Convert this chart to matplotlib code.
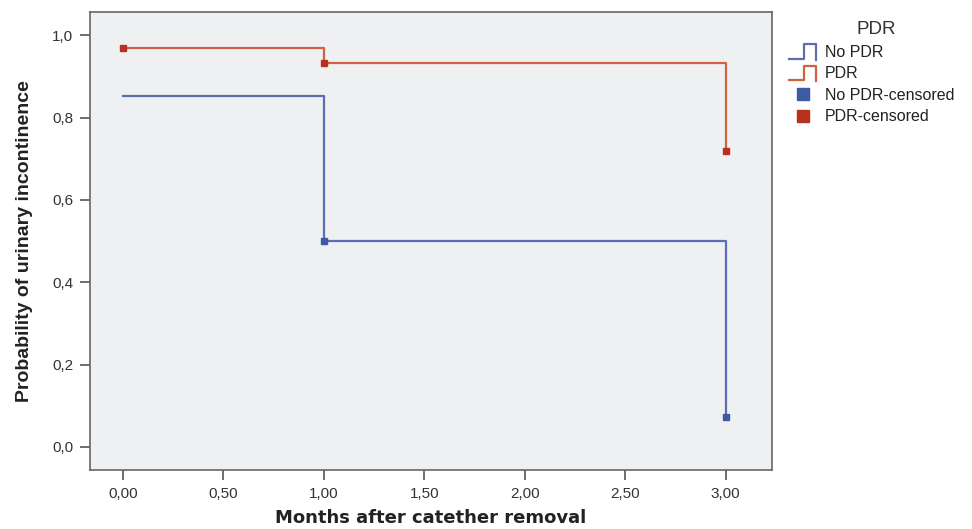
import matplotlib
matplotlib.use("Agg")
import matplotlib.pyplot as plt
from matplotlib.legend_handler import HandlerBase
from matplotlib.lines import Line2D

# Data
times_nopdr = [0.0, 1.0, 3.0]
surv_nopdr = [0.852, 0.50, 0.073]
cens_x_nopdr = [1.0, 3.0]
cens_y_nopdr = [0.50, 0.073]

times_pdr = [0.0, 1.0, 3.0]
surv_pdr = [0.968, 0.933, 0.72]
cens_x_pdr = [0.0, 1.0, 3.0]
cens_y_pdr = [0.968, 0.933, 0.72]

xticks = [0, 0.5, 1.0, 1.5, 2.0, 2.5, 3.0]
xticklabels = ["0,00", "0,50", "1,00", "1,50", "2,00", "2,50", "3,00"]
yticks = [0.0, 0.2, 0.4, 0.6, 0.8, 1.0]
yticklabels = ["0,0", "0,2", "0,4", "0,6", "0,8", "1,0"]

blue_line = "#5a6fb3"
blue_mark = "#3d5aa3"
red_line = "#d1623f"
red_mark = "#b8301e"

plt.rcParams['font.family'] = ['Liberation Sans', 'DejaVu Sans']

fig = plt.figure(figsize=(9.72, 5.29), dpi=100)
ax = fig.add_axes([0.0926, 0.1115, 0.7014, 0.8655])
ax.set_facecolor("#eff0f2")

ax.plot(times_nopdr, surv_nopdr, drawstyle="steps-post", color=blue_line, lw=1.6)
ax.plot(times_pdr, surv_pdr, drawstyle="steps-post", color=red_line, lw=1.6)
ax.plot(cens_x_nopdr, cens_y_nopdr, ls="none", marker="s", ms=4.5, color=blue_mark)
ax.plot(cens_x_pdr, cens_y_pdr, ls="none", marker="s", ms=4.5, color=red_mark)

ax.set_xlim(-0.164, 3.229)
ax.set_ylim(-0.056, 1.056)
ax.set_xticks(xticks)
ax.set_xticklabels(xticklabels)
ax.set_yticks(yticks)
ax.set_yticklabels(yticklabels)
ax.tick_params(axis="both", direction="out", length=7, width=1.2, color="#555555",
               labelsize=11, labelcolor="#333333", pad=5)
for s in ax.spines.values():
    s.set_color("#666666")
    s.set_linewidth(1.2)

ax.set_ylabel("Probability of urinary incontinence", fontsize=14, fontweight="bold",
              color="#222222", labelpad=14)
ax.set_xlabel("Months after catether removal", fontsize=13, fontweight="bold",
              color="#222222", family=["DejaVu Sans"], labelpad=6)


class StepHandler(HandlerBase):
    def create_artists(self, legend, orig_handle, xdescent, ydescent, width, height, fontsize, trans):
        x0 = -xdescent
        y0 = -ydescent
        xs = [x0, x0 + width * 0.55, x0 + width * 0.55, x0 + width, x0 + width]
        ys = [y0 - height * 0.15, y0 - height * 0.15, y0 + height * 1.15,
              y0 + height * 1.15, y0 - height * 0.25]
        ln = Line2D(xs, ys, color=orig_handle.get_color(), lw=1.6)
        ln.set_transform(trans)
        return [ln]


h1 = Line2D([], [], color=blue_line)
h2 = Line2D([], [], color=red_line)
h3 = Line2D([], [], ls="none", marker="s", ms=8.5, color=blue_mark)
h4 = Line2D([], [], ls="none", marker="s", ms=8.5, color=red_mark)

leg = fig.legend([h1, h2, h3, h4], ["No PDR", "PDR", "No PDR-censored", "PDR-censored"],
                 loc="upper left", bbox_to_anchor=(0.802, 0.933),
                 frameon=False, fontsize=11.5,
                 handler_map={h1: StepHandler(), h2: StepHandler()},
                 handlelength=1.7, handletextpad=0.55, labelspacing=0.4, borderpad=0.1)
for t in leg.get_texts():
    t.set_color("#222222")
fig.text(0.902, 1 - 29 / 529, "PDR", ha="center", va="center", fontsize=13.5, color="#333333")

fig.savefig("out.png", dpi=100)
